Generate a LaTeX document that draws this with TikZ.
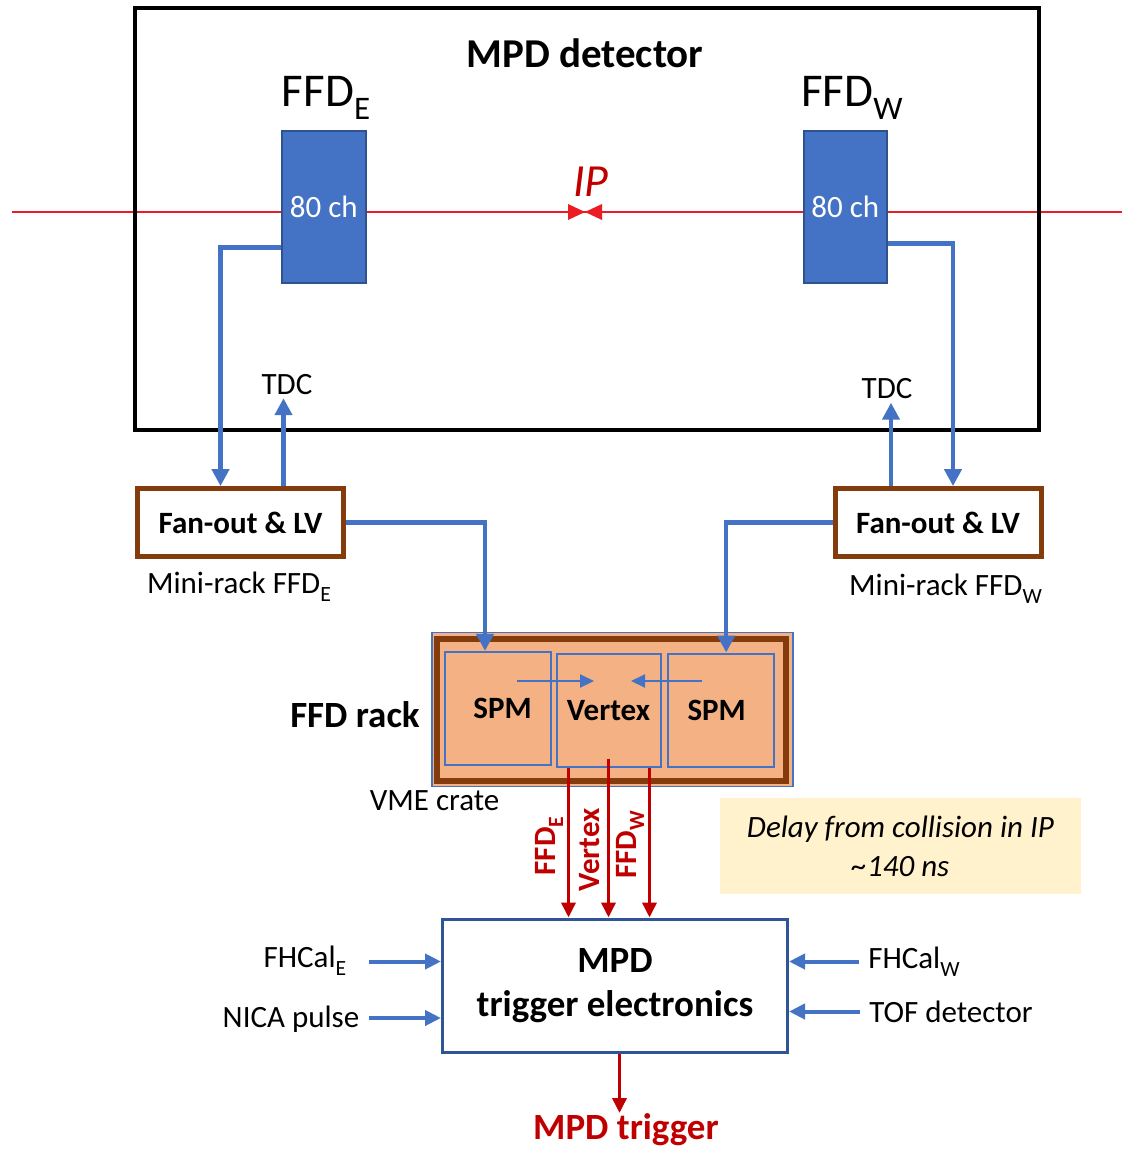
\documentclass[tikz,border=0pt]{standalone}
\usepackage{fontspec}
\usepackage{graphicx}
\setmainfont{Carlito}
\usetikzlibrary{arrows.meta}

\definecolor{cblue}{HTML}{4472C4}
\definecolor{dblue}{HTML}{2F528F}
\definecolor{tblue}{HTML}{2F5597}
\definecolor{rbrown}{HTML}{843C0C}
\definecolor{salmon}{HTML}{F4B183}
\definecolor{sigred}{HTML}{C00000}
\definecolor{beamred}{HTML}{ED1C24}
\definecolor{notey}{HTML}{FFF2CC}

\newcommand{\fsz}[2]{\fontsize{#1}{#2}\selectfont}
\newcommand{\lowsub}[1]{\raisebox{-.26em}{\scalebox{.7}{#1}}}

\tikzset{
  lbl/.style={font=\fsz{31}{37}},
  boldlbl/.style={font=\bfseries\fsz{37}{42}},
  cable/.style={draw=cblue, line width=4.5pt, -{Triangle[length=17pt,width=17pt]}},
  feed/.style={draw=cblue, line width=4pt, -{Triangle[length=16pt,width=15pt]}},
  link/.style={draw=cblue, line width=2pt, -{Triangle[length=14pt,width=13pt]}},
  sig/.style={draw=sigred, line width=3.5pt, -{Triangle[length=15pt,width=14pt]}},
  ffdblock/.style={fill=cblue, draw=dblue, line width=2pt, text=white, font=\fsz{31}{37},
    minimum width=83.5pt, minimum height=152pt, inner sep=0pt},
  fanbox/.style={draw=rbrown, line width=5pt, fill=white, font=\bfseries\fsz{31}{37},
    minimum width=206pt, minimum height=68pt},
  module/.style={draw=cblue, line width=2pt, fill=salmon, font=\bfseries\fsz{31}{37},
    minimum width=105.5pt, minimum height=113pt},
  siglbl/.style={font=\bfseries\fsz{31}{37}, text=sigred, rotate=90, inner sep=0pt},
}

\begin{document}
\begin{tikzpicture}[x=1pt,y=-1pt]
  \useasboundingbox (0,0) rectangle (1122,1149);

  % beam line and interaction point
  \coordinate (beamL) at (12,212);
  \coordinate (beamR) at (1122,212);
  \coordinate (ip) at (585,212);
  \draw[beamred, line width=2pt] (beamL) -- (beamR);
  \fill[beamred] (ip) -- ++(-17,-8) -- ++(0,16) -- cycle;
  \fill[beamred] (ip) -- ++(17,-8) -- ++(0,16) -- cycle;
  \node[font=\itshape\fsz{46}{50}, text=sigred] (iplbl) at (591,182) {IP};

  % detector
  \node[draw, line width=4pt, minimum width=904pt, minimum height=422pt] (det) at (586.5,219.3) {};
  \node[font=\bfseries\fsz{41}{46}] (dettitle) at (585,53) {MPD detector};
  \node[font=\fsz{47}{52}] (ffdElbl) at (326,98) {FFD\lowsub{E}};
  \node[font=\fsz{47}{52}] (ffdWlbl) at (852,98) {FFD\lowsub{W}};
  \node[ffdblock] (ffdE) at (323.8,206.7) {80 ch};
  \node[ffdblock] (ffdW) at (845.3,206.7) {80 ch};

  % mini-racks
  \node[lbl] (tdcE) at (287,384.5) {TDC};
  \node[lbl] (tdcW) at (887,389) {TDC};
  \node[fanbox] (fanE) at (240.5,522.6) {Fan-out \& LV};
  \node[fanbox] (fanW) at (938,522.6) {Fan-out \& LV};
  \node[lbl] (miniE) at (239,587) {Mini-rack FFD\lowsub{E}};
  \node[lbl] (miniW) at (945.5,589) {Mini-rack FFD\lowsub{W}};

  \draw[cable] ([yshift=-41pt]ffdE.west) -| ([xshift=-20pt]fanE.north);
  \draw[cable] ([xshift=43pt]fanE.north) -- ([xshift=43pt]fanE.north |- tdcE.south);
  \draw[cable] ([yshift=-37pt]ffdW.east) -| ([xshift=15pt]fanW.north);
  \draw[cable] ([xshift=-47pt]fanW.north) -- ([xshift=-47pt]fanW.north |- tdcW.south);

  % FFD rack
  \node[fill=salmon, draw=cblue, line width=1.5pt, minimum width=361pt, minimum height=154pt] (rack) at (612.3,709.3) {};
  \node[draw=rbrown, line width=6pt, minimum width=349pt, minimum height=142pt] (crate) at (611.5,709.5) {};
  \node[module] (spmE) at (498,708.4) {\hspace*{9pt}SPM};
  \node[module, minimum width=104pt] (vtx) at (608.5,710.3) {Vertex};
  \node[module] (spmW) at (721.2,710) {SPM\hspace*{9pt}};
  \node[boldlbl] (rackname) at (355,715) {FFD rack};
  \node[lbl] (vme) at (434.6,801) {VME crate};

  \draw[cable] (fanE.east) -| ([xshift=-13pt]spmE.north);
  \draw[cable] (fanW.west) -| ([xshift=5pt]spmW.north);
  \draw[link] ([xshift=19pt,yshift=27.4pt]spmE.center) -- ([xshift=-14.5pt,yshift=29.3pt]vtx.center);
  \draw[link] ([xshift=-19.2pt,yshift=29pt]spmW.center) -- ([xshift=22.5pt,yshift=29.3pt]vtx.center);

  \node[fill=notey, minimum width=361pt, minimum height=96pt, align=center, font=\itshape\fsz{31}{39}] (delay) at (900.5,846) {Delay from collision in IP\\\textasciitilde140 ns};

  % trigger electronics
  \node[draw=tblue, line width=3pt, minimum width=345pt, minimum height=133pt, align=center, font=\bfseries\fsz{37}{44}] (trig) at (615,985.5) {MPD\\trigger electronics};

  \foreach \dx/\sy/\nm/\lx/\ly/\txt in {-40/0/sgE/549/846/{FFD\lowsub{E}}, 0/9/sgV/590/850/{Vertex}, 41/0/sgW/630/845/{FFD\lowsub{W}}}{
    \node[siglbl] (\nm) at (\lx,\ly) {\txt};
    \draw[sig] ([xshift=\dx pt,yshift=\sy pt]vtx.south) -- ([xshift=\dx pt]vtx.south |- trig.north);
  }

  \node[lbl] (fhE) at (305,960.5) {FHCal\lowsub{E}};
  \node[lbl] (nica) at (291,1019) {NICA pulse};
  \node[lbl] (fhW) at (914,962) {FHCal\lowsub{W}};
  \node[lbl] (tof) at (951,1011.5) {TOF detector};
  \draw[feed] ([xshift=-72pt,yshift=24pt]trig.west) -- ([yshift=24pt]trig.west);
  \draw[feed] ([xshift=-72pt,yshift=-32.5pt]trig.west) -- ([yshift=-32.5pt]trig.west);
  \draw[feed] ([xshift=70pt,yshift=24pt]trig.east) -- ([yshift=24pt]trig.east);
  \draw[feed] ([xshift=71pt,yshift=-26pt]trig.east) -- ([yshift=-26pt]trig.east);

  \node[boldlbl, text=sigred, anchor=north, inner sep=0pt] (mpdtrig) at (626,1113) {MPD trigger};
  \draw[sig] ([xshift=4.5pt]trig.south) -- ([xshift=4.5pt]trig.south |- mpdtrig.north);
\end{tikzpicture}
\end{document}
